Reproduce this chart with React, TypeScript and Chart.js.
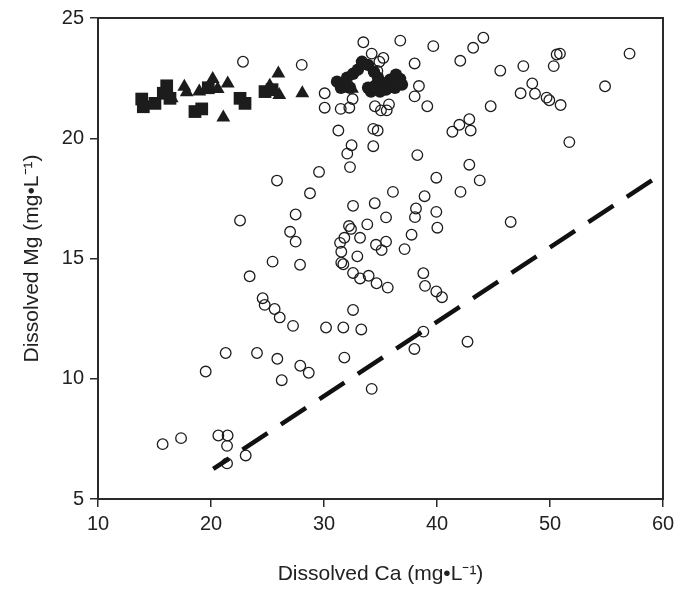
import React, { useEffect, useRef } from "react";
import { Chart, registerables } from "chart.js";

Chart.register(...registerables);

// Open circles (Ca, Mg)
const openCa = [22.83, 28.03, 30.06, 30.06, 31.48, 32.24, 32.53, 33.48, 36.75, 39.67, 44.1, 43.2, 42.06, 45.6, 47.64, 47.4, 34.22, 35.25, 34.9, 38.02, 38.4, 38.02, 39.14, 44.75, 34.51, 35.04, 35.55, 35.75, 31.27, 34.36, 34.75, 32.44, 32.06, 34.36, 38.26, 32.3, 42.86, 41.36, 41.98, 42.86, 42.98, 57.04, 50.59, 50.88, 50.33, 48.43, 48.67, 49.7, 49.94, 50.94, 54.87, 51.71, 25.84, 29.56, 28.76, 27.49, 22.57, 27.0, 27.49, 25.45, 27.88, 23.42, 24.57, 24.75, 25.63, 26.08, 27.26, 32.57, 34.49, 32.21, 32.39, 33.19, 33.83, 31.8, 31.42, 31.53, 32.95, 31.53, 31.71, 32.57, 33.19, 33.95, 34.65, 32.57, 30.18, 31.71, 33.3, 43.78, 42.08, 39.94, 36.1, 38.9, 38.14, 38.05, 39.94, 40.03, 35.49, 46.52, 37.75, 34.6, 35.49, 35.1, 37.13, 38.79, 38.94, 39.94, 40.44, 35.64, 38.79, 38.0, 42.7, 34.22, 21.3, 19.53, 24.07, 25.87, 26.26, 27.9, 28.65, 31.8, 15.72, 17.35, 20.65, 21.47, 21.42, 21.42, 23.07, 34.72];
const openMg = [23.18, 23.05, 21.87, 21.27, 21.22, 21.27, 21.63, 23.99, 24.06, 23.83, 24.18, 23.76, 23.22, 22.81, 23.0, 21.87, 23.52, 23.34, 23.18, 23.11, 22.17, 21.74, 21.33, 21.33, 21.33, 21.16, 21.16, 21.41, 20.32, 20.39, 20.32, 19.71, 19.36, 19.67, 19.3, 18.8, 18.9, 20.27, 20.56, 20.79, 20.32, 23.52, 23.48, 23.52, 23.0, 22.28, 21.85, 21.69, 21.58, 21.38, 22.16, 19.84, 18.24, 18.6, 17.71, 16.83, 16.58, 16.11, 15.7, 14.87, 14.74, 14.26, 13.35, 13.07, 12.9, 12.55, 12.2, 17.19, 17.3, 16.35, 16.23, 15.86, 16.42, 15.86, 15.65, 15.28, 15.09, 14.83, 14.76, 14.4, 14.17, 14.28, 13.97, 12.86, 12.13, 12.13, 12.05, 18.25, 17.77, 18.36, 17.77, 17.59, 17.08, 16.72, 16.94, 16.28, 16.71, 16.52, 15.99, 15.57, 15.7, 15.35, 15.39, 14.39, 13.86, 13.63, 13.39, 13.79, 11.96, 11.24, 11.54, 9.58, 11.07, 10.3, 11.07, 10.83, 9.94, 10.54, 10.25, 10.88, 7.28, 7.53, 7.64, 7.64, 7.21, 6.48, 6.81, 22.8];

// Filled squares
const squareCa = [13.87, 14.01, 15.04, 16.08, 15.78, 16.37, 18.58, 19.18, 19.76, 22.57, 23.01, 24.78, 25.4, 36.6];
const squareMg = [21.63, 21.31, 21.45, 22.18, 21.87, 21.66, 21.11, 21.22, 22.1, 21.66, 21.45, 21.94, 22.02, 22.35];

// Filled triangles
const triangleCa = [17.64, 17.85, 16.52, 18.96, 20.15, 20.59, 21.48, 21.09, 25.96, 26.04, 28.08, 25.2, 32.48];
const triangleMg = [22.14, 21.91, 21.66, 21.94, 22.46, 22.05, 22.28, 20.86, 22.69, 21.8, 21.87, 22.18, 22.06];

// Filled circles
const filledCa = [31.15, 31.5, 32.04, 32.3, 32.57, 33.0, 33.36, 33.89, 31.95, 34.16, 33.9, 34.51, 34.96, 34.78, 35.31, 35.84, 36.37, 36.73, 36.9, 36.28, 35.49, 34.42, 36.55];
const filledMg = [22.35, 22.1, 22.52, 22.1, 22.68, 22.85, 23.18, 23.05, 22.18, 21.94, 22.1, 22.18, 21.94, 22.52, 22.27, 22.43, 22.64, 22.47, 22.23, 22.1, 22.02, 22.76, 22.35];

// Dashed reference line
const lineCa = [20.2, 60];
const lineMg = [6.25, 18.55];

const xTicks = [10, 20, 30, 40, 50, 60];
const yTicks = [5, 10, 15, 20, 25];

const pts = (xs: number[], ys: number[]) => xs.map((x, i) => ({ x, y: ys[i] }));

const INK = "#1c1c1c";
const FONT = "Liberation Sans, Arial, sans-serif";

const frame = {
  id: "frameBox",
  afterDatasetsDraw(chart: any) {
    const { ctx, chartArea: a } = chart;
    ctx.save();
    ctx.strokeStyle = "#2a2a2a";
    ctx.lineWidth = 2;
    ctx.strokeRect(a.left, a.top, a.right - a.left, a.bottom - a.top);
    ctx.restore();
  },
};

export default function App() {
  const ref = useRef<HTMLCanvasElement>(null);
  useEffect(() => {
    if (!ref.current) return;
    const chart = new Chart(ref.current, {
      type: "scatter",
      data: {
        datasets: [
          {
            label: "line",
            data: pts(lineCa, lineMg),
            showLine: true,
            borderColor: "#111",
            borderWidth: 4.5,
            borderDash: [30, 16],
            borderDashOffset: 11,
            pointRadius: 0,
            borderCapStyle: "butt",
          },
          {
            label: "squares",
            data: pts(squareCa, squareMg),
            pointStyle: "rect",
            pointRadius: 9,
            backgroundColor: INK,
            borderColor: INK,
            borderWidth: 0,
          },
          {
            label: "triangles",
            data: pts(triangleCa, triangleMg),
            pointStyle: "triangle",
            pointRadius: 8,
            backgroundColor: INK,
            borderColor: INK,
            borderWidth: 0,
          },
          {
            label: "filled",
            data: pts(filledCa, filledMg),
            pointStyle: "circle",
            pointRadius: 6.2,
            backgroundColor: INK,
            borderColor: INK,
            borderWidth: 0,
          },
          {
            label: "open",
            data: pts(openCa, openMg),
            pointStyle: "circle",
            pointRadius: 5.3,
            backgroundColor: "rgba(0,0,0,0)",
            borderColor: INK,
            borderWidth: 1.3,
          },
        ],
      },
      options: {
        responsive: false,
        animation: false,
        events: [],
        layout: { padding: { top: 16, right: 32, left: 0, bottom: 0 } },
        plugins: { legend: { display: false }, tooltip: { enabled: false } },
        scales: {
          x: {
            type: "linear",
            min: 10,
            max: 60,
            afterBuildTicks: (s: any) => {
              s.ticks = xTicks.map((v) => ({ value: v }));
            },
            afterFit: (s: any) => {
              s.height = 91;
            },
            ticks: {
              color: "#222",
              font: { family: FONT, size: 20 },
              padding: 5,
            },
            grid: {
              drawOnChartArea: false,
              drawTicks: true,
              tickLength: 8,
              color: "#2a2a2a",
              lineWidth: 1.5,
            },
            border: { display: true, color: "#2a2a2a", width: 2 },
            title: {
              display: true,
              text: "Dissolved Ca (mg•L⁻¹)",
              color: "#222",
              font: { family: FONT, size: 21 },
              padding: { top: 0, bottom: 3 },
            },
          },
          y: {
            type: "linear",
            min: 5,
            max: 25,
            afterBuildTicks: (s: any) => {
              s.ticks = yTicks.map((v) => ({ value: v }));
            },
            afterFit: (s: any) => {
              s.width = 98;
            },
            ticks: {
              color: "#222",
              font: { family: FONT, size: 20 },
              padding: 6,
            },
            grid: {
              drawOnChartArea: false,
              drawTicks: true,
              tickLength: 8,
              color: "#2a2a2a",
              lineWidth: 1.5,
            },
            border: { display: true, color: "#2a2a2a", width: 2 },
            title: {
              display: true,
              text: "Dissolved Mg (mg•L⁻¹)",
              color: "#222",
              font: { family: FONT, size: 21 },
              padding: { top: 20, bottom: 0 },
            },
          },
        },
      } as any,
      plugins: [frame],
    });
    return () => chart.destroy();
  }, []);
  return (
    <div style={{ position: "absolute", left: 0, top: 0, width: 695, height: 590, background: "#fff" }}>
      <canvas ref={ref} width={695} height={590} style={{ display: "block", width: 695, height: 590 }} />
    </div>
  );
}
